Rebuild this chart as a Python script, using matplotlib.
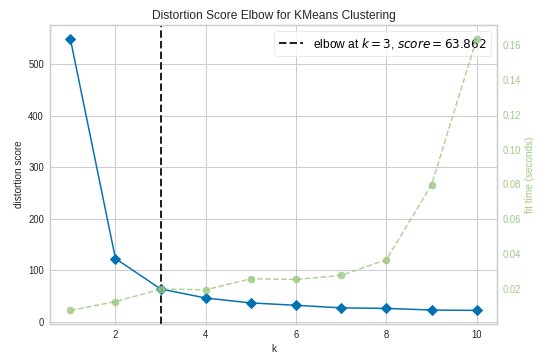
import numpy as np
import matplotlib
matplotlib.use('Agg')
from matplotlib import pyplot as plt

# values
k_values = [1, 2, 3, 4, 5, 6, 7, 8, 9, 10]
distortion = [549.0, 122.8, 63.862, 46.3, 36.8, 32.2, 27.2, 26.2, 23.0, 22.3]
fit_time = [0.0080, 0.0130, 0.0202, 0.0198, 0.0261, 0.0257, 0.0280, 0.0370, 0.0798, 0.1634]
elbow_k = 3
elbow_score = 63.862

blue = '#0072B2'
green = '#9DC882'
text_c = '#262626'
edge_c = '#cccccc'

plt.rcParams['font.family'] = ['Liberation Sans', 'DejaVu Sans']
plt.rcParams['font.size'] = 10

fig = plt.figure(figsize=(553/72, 358/72), dpi=72)
ax = fig.add_axes([0.0904, 0.095, 0.8083, 0.835])
ax.set_facecolor('white')
for s in ax.spines.values():
    s.set_color(edge_c)
    s.set_linewidth(1.25)
ax.grid(True, color=edge_c, linewidth=1)
ax.set_axisbelow(True)

ax.plot(k_values, distortion, marker='D', color=blue, linewidth=1.5, markersize=6.5)
ax.axvline(elbow_k, color='#222222', linestyle='--', linewidth=2,
           label='elbow at $k={}$, $score={:0.3f}$'.format(elbow_k, elbow_score))
ax.set_title('Distortion Score Elbow for KMeans Clustering', color=text_c, fontsize=12)
ax.set_xlabel('k', color=text_c)
ax.set_ylabel('distortion score', color=text_c)
ax.tick_params(length=0, colors=text_c, labelsize=9.5, pad=6)
ax.set_xticks([2, 4, 6, 8, 10])
ax.set_yticks([0, 100, 200, 300, 400, 500])

ax2 = ax.twinx()
ax2.plot(k_values, fit_time, marker='o', color=green, linestyle='--', linewidth=1.5,
         markersize=6.5, alpha=0.8)
ax2.grid(False)
for s in ax2.spines.values():
    s.set_color(edge_c)
    s.set_linewidth(1.25)
ax2.set_ylabel('fit time (seconds)', color=green)
ax2.tick_params(length=0, colors=green, labelsize=9.5, pad=6)
ax2.set_yticks([0.02, 0.04, 0.06, 0.08, 0.10, 0.12, 0.14, 0.16])

leg = ax.legend(loc='upper right', frameon=True, fontsize=12)
leg.get_frame().set_edgecolor('#e6e6e6')

fig.savefig('out.png', dpi=72)
